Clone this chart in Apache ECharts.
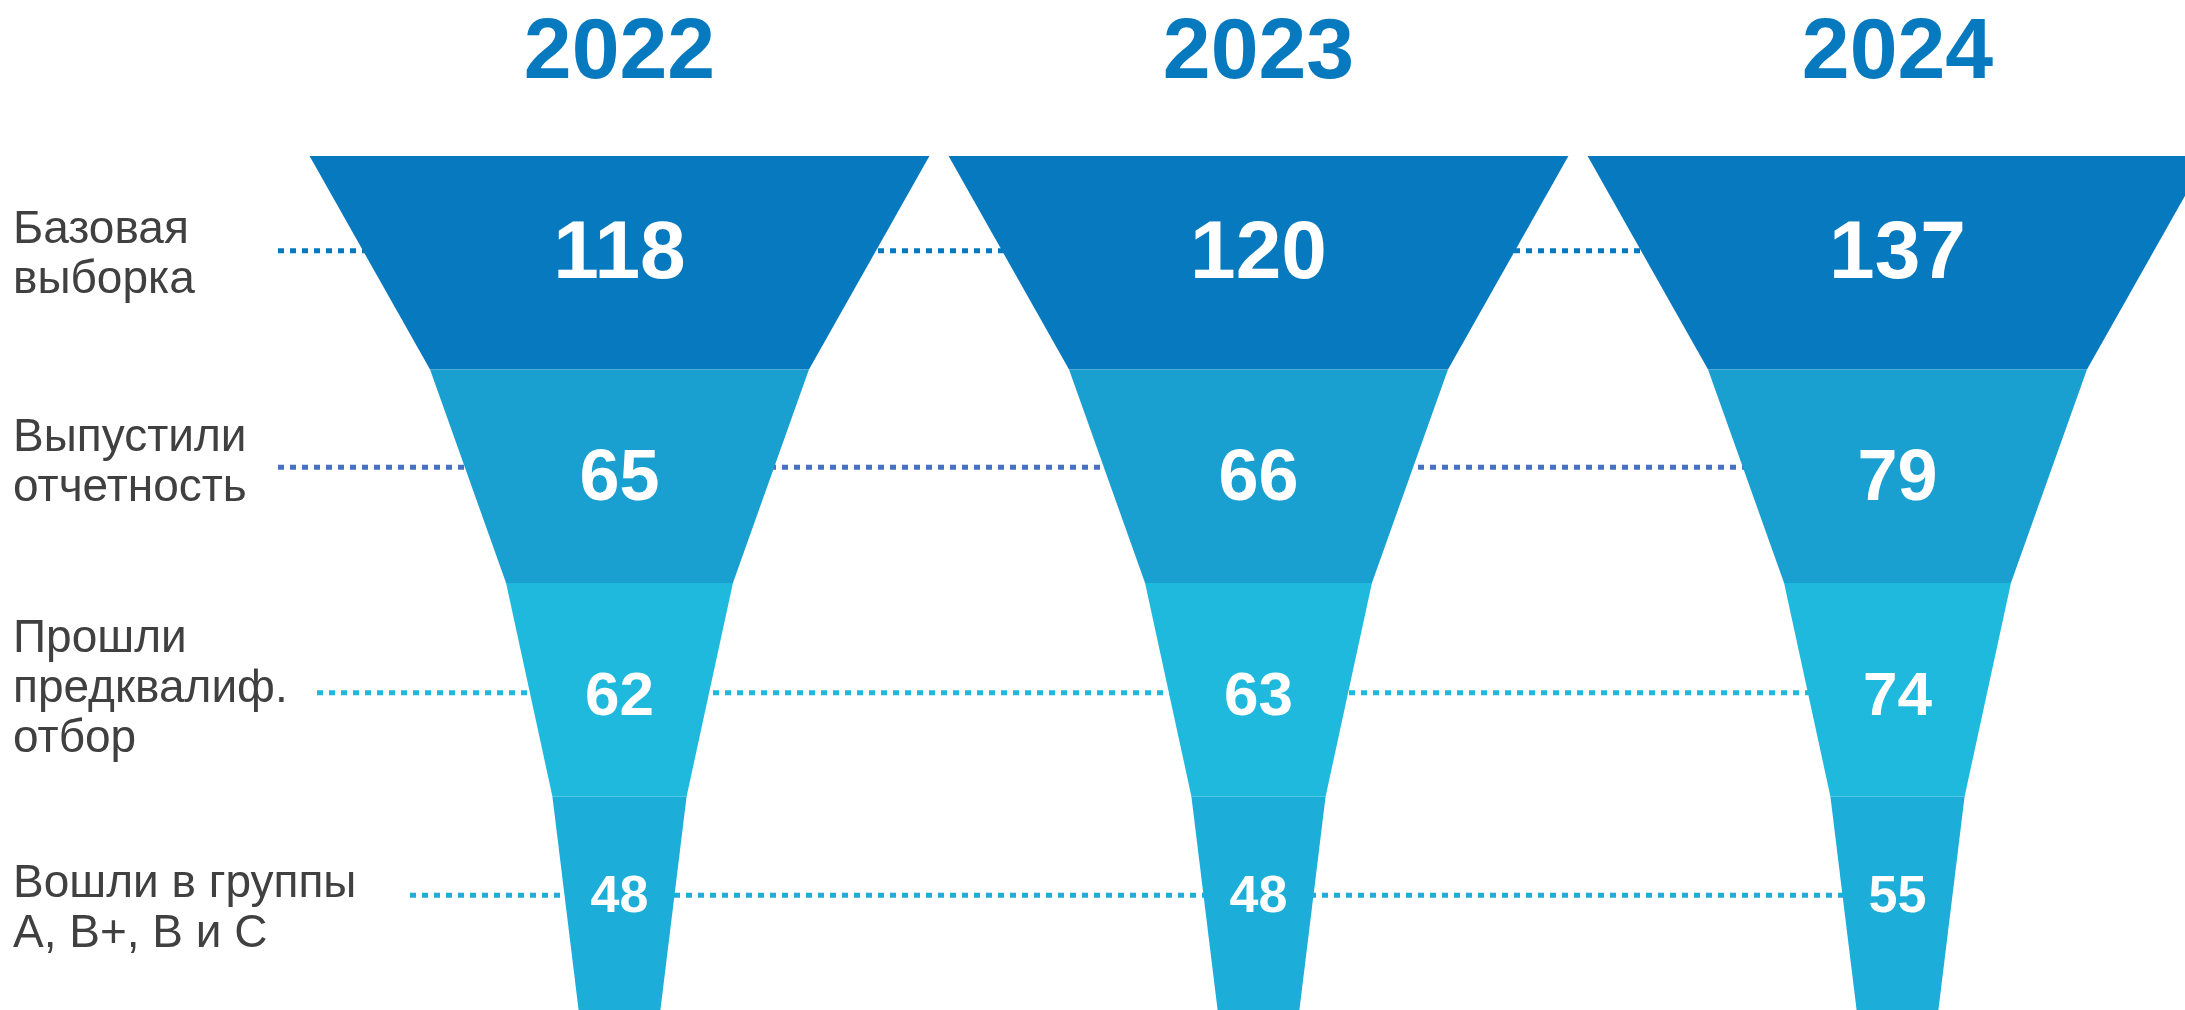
<!DOCTYPE html>
<html>
<head>
<meta charset="utf-8">
<script src="https://cdn.jsdelivr.net/npm/echarts@6/dist/echarts.min.js"></script>
<style>
html,body{margin:0;padding:0;background:#ffffff;}
#chart{width:2185px;height:1010px;}
</style>
</head>
<body>
<div id="chart"></div>
<script>
// ---- data ----
const years = ['2022', '2023', '2024'];
const stages = ['Базовая\nвыборка', 'Выпустили\nотчетность', 'Прошли\nпредквалиф.\nотбор', 'Вошли в группы\nA, B+, B и C'];
const values2022 = [118, 65, 62, 48];
const values2023 = [120, 66, 63, 48];
const values2024 = [137, 79, 74, 55];
const seriesValues = [values2022, values2023, values2024];

// ---- style ----
const FONT = '"Liberation Sans", Arial, sans-serif';
const stageColors = ['#0779BE', '#19A0D0', '#1EB9DD', '#1CAED9'];
const lineColors = ['#0779BE', '#4472C4', '#1EB9DD', '#1CAED9'];
const funnelShape = [0.970, 0.593, 0.355, 0.21, 0.128]; // funnel edge widths as share of the category band
const numberFont = [82, 72, 62, 52];
const numberDy = [-7, 4, 8, -6];
const lineDy = [-12, -9, 3, -8];
const labelDy = [-7, -13, 0, 6];
const lineStart = [-22, -22, 17, 110]; // leader line start, relative to grid left
const labelOffsetX = -287;             // stage label left edge, relative to grid left

const funnelData = [];
seriesValues.forEach(function (vals, yi) {
  vals.forEach(function (v, si) { funnelData.push([yi, si, v]); });
});
const stageData = stages.map(function (s, si) { return [years.length - 1, si]; });

const chart = echarts.init(document.getElementById('chart'), null, {renderer: 'canvas'});
chart.setOption({
  animation: false,
  backgroundColor: '#ffffff',
  grid: {left: 300, top: 156, width: 1917, height: 854, containLabel: false, outerBoundsMode: 'none'},
  xAxis: {
    type: 'category', data: years, position: 'top',
    axisLine: {show: false}, axisTick: {show: false}, splitLine: {show: false},
    axisLabel: {fontSize: 86, fontWeight: 'bold', color: '#0779BE', fontFamily: FONT, margin: 102, verticalAlign: 'middle'}
  },
  yAxis: {
    type: 'category', data: stages, inverse: true,
    axisLine: {show: false}, axisTick: {show: false}, splitLine: {show: false},
    axisLabel: {show: false}
  },
  series: [
    {
      type: 'custom', z: 1, silent: true, clip: false,
      encode: {x: 0, y: 1},
      data: stageData,
      renderItem: function (params, api) {
        const si = api.value(1);
        const end = api.coord([api.value(0), si]);
        const bw = api.size([1, 1])[0];
        const gridLeft = api.coord([0, si])[0] - bw / 2;
        const y = end[1] + lineDy[si];
        return {
          type: 'group',
          children: [
            {
              type: 'line',
              shape: {x1: gridLeft + lineStart[si], y1: y, x2: end[0], y2: y},
              style: {stroke: lineColors[si], lineWidth: 5, lineDash: [6, 6], lineCap: 'butt'}
            },
            {
              type: 'text', x: gridLeft + labelOffsetX, y: end[1] + labelDy[si],
              style: {text: stages[si], fill: '#404040', fontSize: 46, lineHeight: 50,
                      fontFamily: FONT, align: 'left', verticalAlign: 'middle'}
            }
          ]
        };
      }
    },
    {
      type: 'custom', z: 2, silent: true, clip: false,
      encode: {x: 0, y: 1},
      data: funnelData,
      renderItem: function (params, api) {
        const yi = api.value(0), si = api.value(1), v = api.value(2);
        const c = api.coord([yi, si]);
        const sz = api.size([1, 1]);
        const bw = sz[0], bh = sz[1];
        const top = c[1] - bh / 2, bot = c[1] + bh / 2;
        const wt = funnelShape[si] * bw / 2, wb = funnelShape[si + 1] * bw / 2;
        return {
          type: 'group',
          children: [
            {
              type: 'polygon',
              shape: {points: [[c[0] - wt, top], [c[0] + wt, top], [c[0] + wb, bot], [c[0] - wb, bot]]},
              style: {fill: stageColors[si]}
            },
            {
              type: 'text', x: c[0], y: c[1] + numberDy[si],
              style: {text: String(v), fill: '#ffffff', fontSize: numberFont[si], fontWeight: 'bold',
                      fontFamily: FONT, align: 'center', verticalAlign: 'middle'}
            }
          ]
        };
      }
    }
  ]
});
</script>
</body>
</html>
